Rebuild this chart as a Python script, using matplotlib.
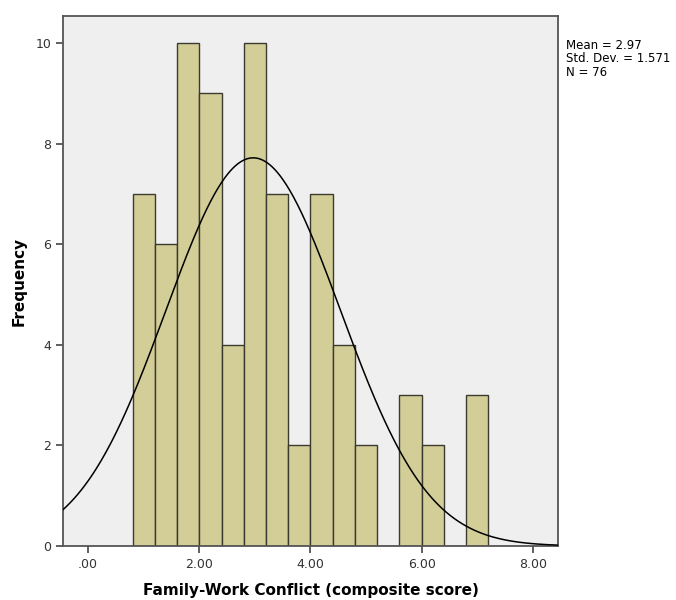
import numpy as np
import matplotlib.pyplot as plt

# histogram bins (width 0.4, starting at 0.8)
bin_edges = [0.8 + 0.4 * i for i in range(17)]
counts = [7, 6, 10, 9, 4, 10, 7, 2, 7, 4, 2, 0, 3, 2, 0, 3]
mean, sd, n = 2.97, 1.571, 76
xticks = [0, 2, 4, 6, 8]
xtick_labels = [".00", "2.00", "4.00", "6.00", "8.00"]
yticks = [0, 2, 4, 6, 8, 10]

fig = plt.figure(figsize=(6.76, 6.0), dpi=100)
ax = fig.add_axes([0.0932, 0.09, 0.7322, 0.8833])
ax.set_facecolor("#efefef")

ax.bar(bin_edges[:-1], counts, width=0.4, align="edge",
       color="#d3ce98", edgecolor="#3a3a30", linewidth=1.0, zorder=2)

# fitted normal curve
x = np.linspace(-0.45, 8.45, 400)
y = n * 0.4 / (sd * np.sqrt(2 * np.pi)) * np.exp(-0.5 * ((x - mean) / sd) ** 2)
ax.plot(x, y, color="black", linewidth=1.1, zorder=3)

ax.set_xlim(-0.45, 8.45)
ax.set_ylim(0, 10.54)
ax.set_xticks(xticks)
ax.set_xticklabels(xtick_labels)
ax.set_yticks(yticks)
ax.tick_params(direction="out", length=5, width=1.2, color="#444444",
               labelsize=9, labelcolor="#333333")
for s in ax.spines.values():
    s.set_color("#555555")
    s.set_linewidth(1.3)

ax.set_xlabel("Family-Work Conflict (composite score)", fontsize=11,
              fontweight="bold", labelpad=9)
ax.set_ylabel("Frequency", fontsize=11, fontweight="bold", labelpad=6)

fig.text(0.838, 0.935, "Mean = 2.97\nStd. Dev. = 1.571\nN = 76",
         fontsize=8.5, va="top", ha="left", linespacing=1.05)

fig.savefig("out.png", dpi=100, facecolor="white")
